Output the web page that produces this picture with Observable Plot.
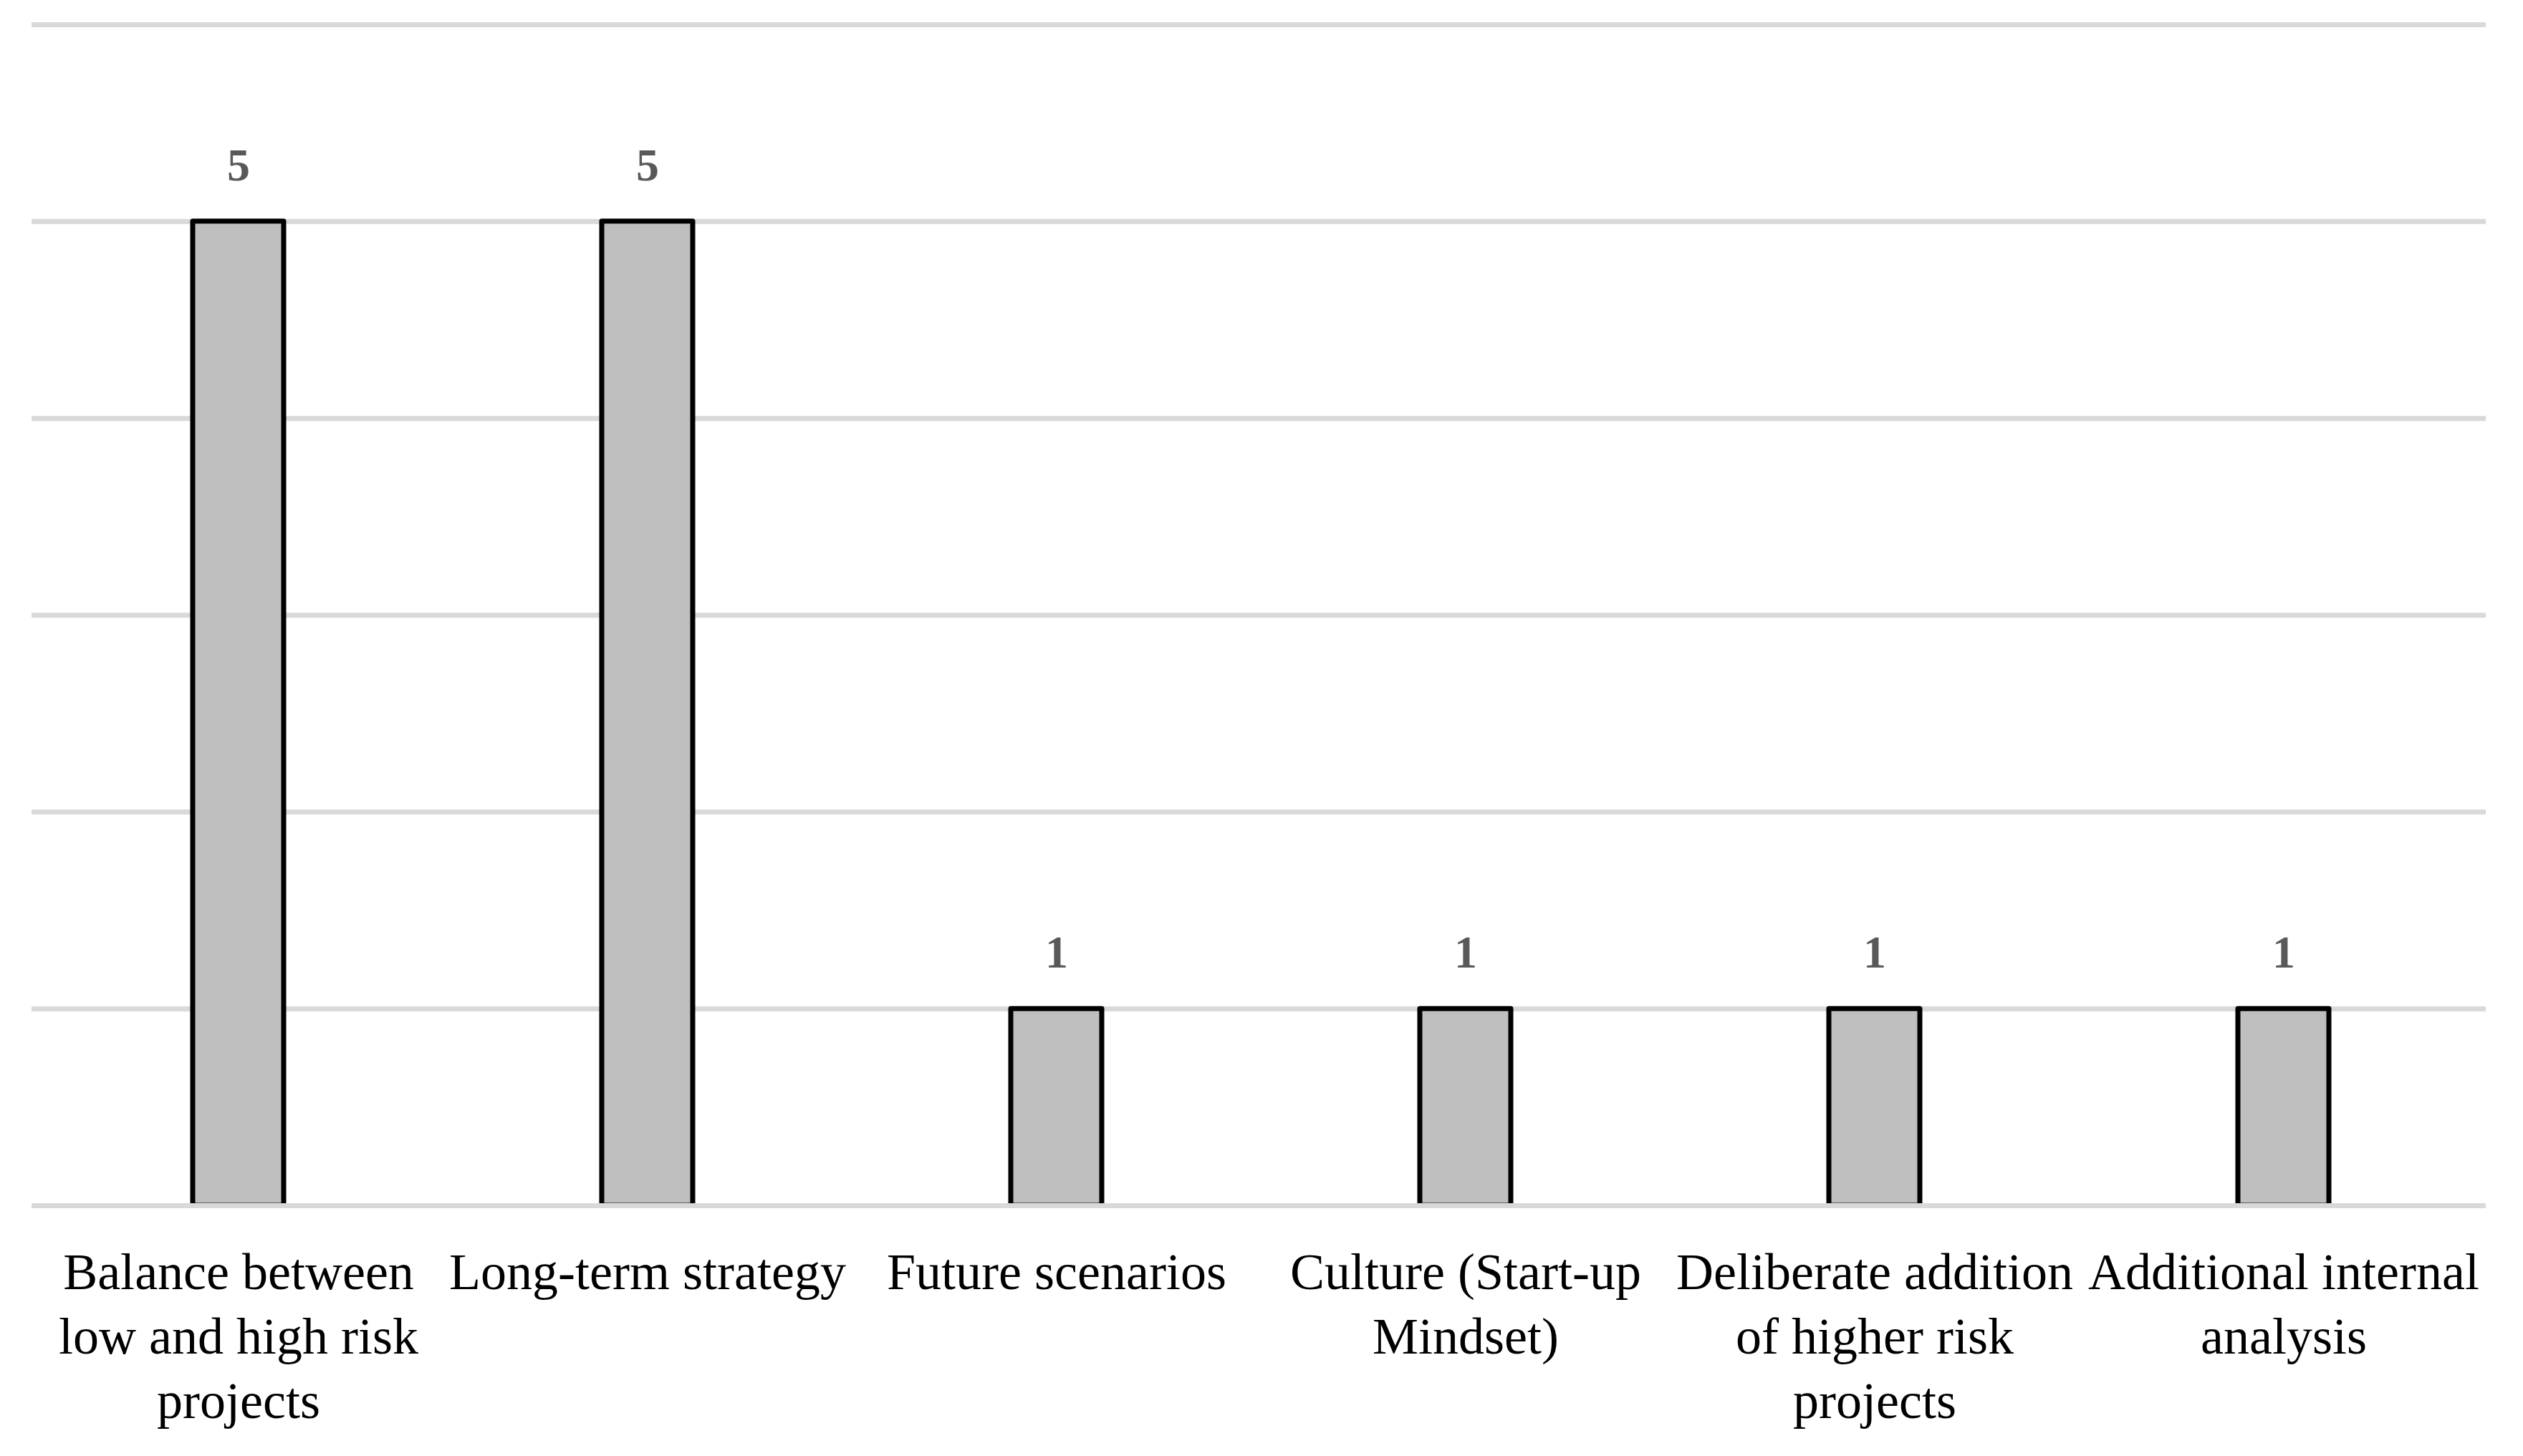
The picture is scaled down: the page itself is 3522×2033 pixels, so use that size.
<!DOCTYPE html>
<html><head><meta charset="utf-8">
<script src="https://cdn.jsdelivr.net/npm/d3@7"></script>
<script src="https://cdn.jsdelivr.net/npm/@observablehq/plot@0.6"></script>
<style>html,body{margin:0;padding:0;background:#fff;} svg{display:block}</style>
</head><body><div id="chart"></div>
<script>
const categories = [
  "Balance between\nlow and high risk\nprojects",
  "Long-term strategy",
  "Future scenarios",
  "Culture (Start-up\nMindset)",
  "Deliberate addition\nof higher risk\nprojects",
  "Additional internal\nanalysis"
];
const values = [5, 5, 1, 1, 1, 1];
const gridValues = [1, 2, 3, 4, 5, 6];

const data = categories.map((c, i) => ({category: c, value: values[i]}));

const chart = Plot.plot({
  width: 3522,
  height: 2033,
  marginLeft: 44,
  marginRight: 52,
  marginTop: 34,
  marginBottom: 350,
  style: {fontFamily: "'Liberation Serif', serif", background: "#fff", color: "#000"},
  x: {domain: categories, paddingInner: 0.778, paddingOuter: 0.389, align: 0.507, label: null},
  y: {domain: [0, 6], axis: null},
  marks: [
    Plot.ruleY(gridValues, {stroke: "#d9d9d9", strokeWidth: 7}),
    Plot.barY(data, {x: "category", y: "value", fill: "#bfbfbf", stroke: "#000", strokeWidth: 7, strokeLinejoin: "round"}),
    Plot.ruleY([0], {stroke: "#d9d9d9", strokeWidth: 7}),
    Plot.text(data, {x: "category", y: "value", text: d => String(d.value), dy: -78, fill: "#595959", fontWeight: "bold", fontSize: 64}),
    Plot.axisX({tickSize: 0, tickPadding: 53, fontSize: 72, lineHeight: 1.25, label: null})
  ]
});
document.getElementById("chart").appendChild(chart);
</script>
</body></html>
